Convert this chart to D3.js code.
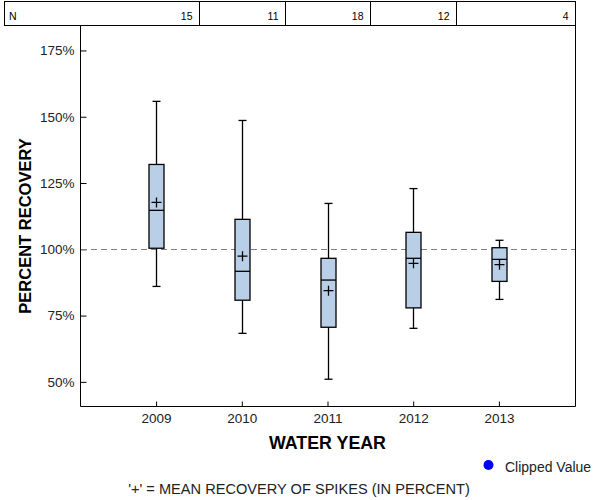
<!DOCTYPE html>
<html>
<head>
<meta charset="utf-8">
<script src="https://cdn.jsdelivr.net/npm/d3@7"></script>
<style>
  body { margin: 0; background: #fff; }
  svg { display: block; font-family: "Liberation Sans", Arial, sans-serif; }
</style>
</head>
<body>
<svg id="chart" width="600" height="500"></svg>
<script>
// ---- data ----
const years   = ["2009", "2010", "2011", "2012", "2013"];
const counts  = [15, 11, 18, 12, 4];
const whiskerHigh = [155.8, 148.6, 117.3, 122.9, 103.4];
const q3          = [132.0, 111.3, 96.6, 106.4, 100.6];
const medians     = [114.7, 91.7, 88.4, 96.6, 96.2];
const means       = [117.7, 97.4, 84.4, 94.7, 94.2];
const q1          = [100.4, 80.8, 70.6, 77.9, 87.9];
const whiskerLow  = [86.0, 68.3, 51.0, 70.2, 81.1];
const yTicks = [50, 75, 100, 125, 150, 175];
const referenceValue = 100;

(function () {
const svg = d3.select("#chart");
const pL = 80, pR = 575, pT = 25, pB = 406;

const x = d3.scalePoint().domain(years).range([pL, pR]).padding(0.888);
const y = d3.scaleLinear().domain([40.9, 184.6]).range([pB, pT]);

// N table
const tbl = svg.append("g");
tbl.append("rect").attr("x", 4.5).attr("y", 1.5).attr("width", 571).attr("height", 24)
  .attr("fill", "none").attr("stroke", "#000").attr("stroke-width", 1);
const step = x.step();
years.forEach((yr, i) => {
  const xr = Math.round(x(yr) + step / 2) + 0.5;
  if (i < years.length - 1) {
    tbl.append("line").attr("x1", xr).attr("x2", xr).attr("y1", 1.5).attr("y2", 25.5)
      .attr("stroke", "#000");
  }
  tbl.append("text").attr("x", (i < years.length - 1 ? xr : 575.5) - 7).attr("y", 20)
    .attr("text-anchor", "end").attr("font-size", 10.5).attr("fill", "#000").text(counts[i]);
});
tbl.append("text").attr("x", 9).attr("y", 20).attr("font-size", 10.5).attr("fill", "#000").text("N");

// frame (left, right, bottom)
svg.append("path")
  .attr("d", `M${pL + 0.5},${pT + 0.5}V${pB + 0.5}H${pR + 0.5}V${pT + 0.5}`)
  .attr("fill", "none").attr("stroke", "#000").attr("stroke-width", 1);

// y axis (inward ticks)
const yAxis = svg.append("g").attr("transform", `translate(${pL + 0.5},0)`)
  .call(d3.axisRight(y).tickValues(yTicks).tickSize(6).tickFormat(d => d + "%"));
yAxis.select(".domain").remove();
yAxis.selectAll(".tick line").attr("stroke", "#000");
yAxis.selectAll(".tick text").attr("x", -6).attr("text-anchor", "end")
  .attr("font-size", 13.5).attr("fill", "#222").attr("font-family", "Liberation Sans, Arial, sans-serif");

// x axis (inward ticks)
const xAxis = svg.append("g").attr("transform", `translate(0,${pB + 0.5})`)
  .call(d3.axisTop(x).tickSize(5));
xAxis.select(".domain").remove();
xAxis.selectAll(".tick line").attr("stroke", "#000");
xAxis.selectAll(".tick text").attr("y", 16).attr("dy", 0)
  .attr("font-size", 13.5).attr("fill", "#222").attr("font-family", "Liberation Sans, Arial, sans-serif");

// reference line
svg.append("line").attr("x1", pL + 1).attr("x2", pR)
  .attr("y1", Math.round(y(referenceValue)) + 0.5).attr("y2", Math.round(y(referenceValue)) + 0.5)
  .attr("stroke", "#808080").attr("stroke-width", 1).attr("stroke-dasharray", "6,4");

// boxes
const bw = 15, cap = 8;
const g = svg.append("g");
years.forEach((yr, i) => {
  const cx = Math.round(x(yr)) + 0.5;
  g.append("line").attr("x1", cx).attr("x2", cx).attr("y1", y(whiskerHigh[i])).attr("y2", y(q3[i]))
    .attr("stroke", "#000").attr("stroke-width", 1.3);
  g.append("line").attr("x1", cx).attr("x2", cx).attr("y1", y(q1[i])).attr("y2", y(whiskerLow[i]))
    .attr("stroke", "#000").attr("stroke-width", 1.3);
  [whiskerHigh[i], whiskerLow[i]].forEach(v => {
    g.append("line").attr("x1", cx - cap / 2).attr("x2", cx + cap / 2).attr("y1", y(v)).attr("y2", y(v))
      .attr("stroke", "#000").attr("stroke-width", 1.3);
  });
  g.append("rect").attr("x", cx - bw / 2).attr("y", y(q3[i])).attr("width", bw)
    .attr("height", y(q1[i]) - y(q3[i]))
    .attr("fill", "#b9cfe7").attr("stroke", "#000").attr("stroke-width", 1.3);
  g.append("line").attr("x1", cx - bw / 2).attr("x2", cx + bw / 2).attr("y1", y(medians[i])).attr("y2", y(medians[i]))
    .attr("stroke", "#000").attr("stroke-width", 1.3);
  const my = y(means[i]);
  g.append("path").attr("d", `M${cx - 5},${my}H${cx + 5}M${cx},${my - 5}V${my + 5}`)
    .attr("stroke", "#000").attr("stroke-width", 1.3).attr("fill", "none");
});

// axis titles
svg.append("text").attr("x", (pL + pR) / 2).attr("y", 449).attr("text-anchor", "middle")
  .attr("font-size", 17.8).attr("font-weight", "bold").attr("fill", "#000").text("WATER YEAR");
svg.append("text").attr("transform", "translate(31,226) rotate(-90)").attr("text-anchor", "middle")
  .attr("font-size", 16.5).attr("font-weight", "bold").attr("fill", "#000").text("PERCENT RECOVERY");

// legend
svg.append("circle").attr("cx", 488.5).attr("cy", 465).attr("r", 5).attr("fill", "#0000ff");
svg.append("text").attr("x", 505).attr("y", 471.5).attr("font-size", 14).attr("fill", "#222").text("Clipped Value");

// footnote
svg.append("text").attr("x", 299).attr("y", 494).attr("text-anchor", "middle")
  .attr("font-size", 14.6).attr("fill", "#222").text("'+' = MEAN RECOVERY OF SPIKES (IN PERCENT)");
})();
</script>
</body>
</html>
